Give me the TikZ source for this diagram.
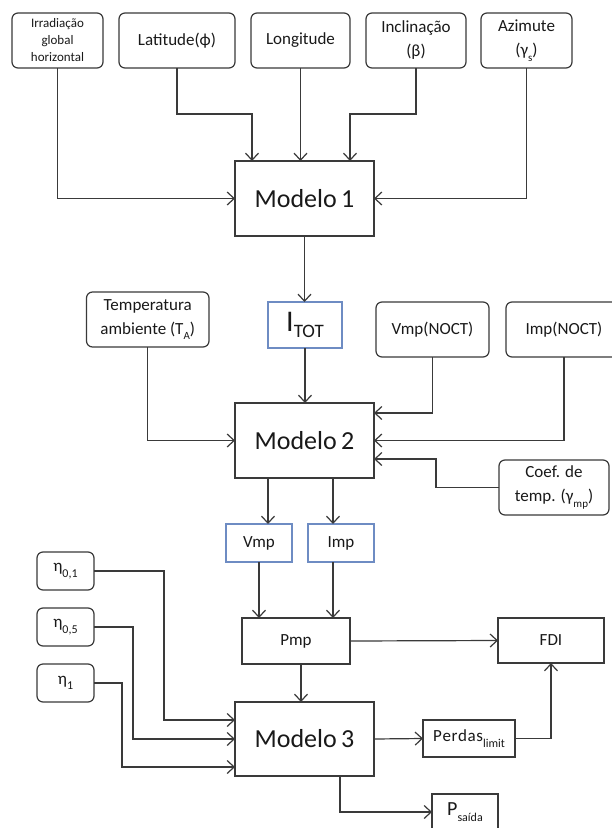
\documentclass[tikz,border=0pt]{standalone}
\usepackage{fontspec}
\setmainfont{Carlito}
\usetikzlibrary{arrows.meta}

\definecolor{linec}{RGB}{58,58,58}
\definecolor{bluec}{RGB}{110,140,195}
\definecolor{textc}{RGB}{25,25,25}

% lowered subscript at a given size
\newcommand{\lowsub}[2]{\raisebox{-0.32em}{\fontsize{#1}{#1}\selectfont #2}}

\begin{document}
\begin{tikzpicture}[x=1pt,y=-1pt,
  every node/.style={inner sep=0pt, outer sep=0pt, align=center, text=textc},
  rbox/.style={draw=linec, line width=1.2pt, rounded corners=6pt, fill=white,
               font=\fontsize{17}{24}\selectfont},
  sbox/.style={draw=linec, line width=1.2pt, fill=white,
               font=\fontsize{17}{22}\selectfont},
  bbox/.style={draw=bluec, line width=1.1pt, fill=white,
               font=\fontsize{17}{22}\selectfont},
  model/.style={sbox, minimum width=139pt, font=\fontsize{26}{30}\selectfont},
  arr/.style={draw=linec, line width=1.2pt, -{Straight Barb[length=7pt,width=13pt,line width=1.2pt]}}
]
\useasboundingbox[fill=white] (0,0) rectangle (611,828);

% inputs of Modelo 1
\node[rbox, minimum width=91pt, minimum height=55pt, font=\fontsize{13}{17}\selectfont]
  (irr) at (57.5,40.5) {Irradiação\\global\\horizontal};
\node[rbox, minimum width=116pt, minimum height=55pt] (lat) at (177,40.5) {Latitude(ϕ)};
\node[rbox, minimum width=99pt, minimum height=55pt] (lon) at (300.5,40.5) {Longitude};
\node[rbox, minimum width=100pt, minimum height=55pt] (inc) at (416,40.5) {Inclinação\\(β)};
\node[rbox, minimum width=91pt, minimum height=55pt] (azi) at (526.5,40.5) {Azimute\\(γ\lowsub{11}{s})};

\node[model, minimum height=75pt] (m1) at (304.5,198.5) {Modelo\hspace{-1.5pt} 1};

% inputs of Modelo 2
\node[bbox, minimum width=74pt, minimum height=46pt] (itot) at (305,325)
  {{\fontsize{30}{30}\selectfont I}\lowsub{19}{TOT}};
\node[rbox, minimum width=122.5pt, minimum height=55pt] (temp) at (147.75,319.5)
  {Temperatura\\ambiente (T\lowsub{11}{A})};
\node[rbox, minimum width=113pt, minimum height=55pt] (vnoct) at (432.5,329.5) {Vmp(NOCT)};
\node[rbox, minimum width=116pt, minimum height=55pt] (inoct) at (564,329.5) {Imp(NOCT)};
\node[rbox, minimum width=110pt, minimum height=55pt] (coef) at (554,487.5)
  {Coef. de\\temp. (γ\lowsub{11}{mp})};

\node[model, minimum height=75pt] (m2) at (304.5,440.5) {Modelo\hspace{-1.5pt} 2};

% outputs of Modelo 2
\node[bbox, minimum width=66pt, minimum height=38pt] (vmp) at (259,543) {Vmp};
\node[bbox, minimum width=66pt, minimum height=38pt] (imp) at (341,543) {Imp};
\node[sbox, minimum width=108pt, minimum height=46pt] (pmp) at (296,641) {Pmp};
\node[sbox, minimum width=106pt, minimum height=45pt] (fdi) at (551,640.5) {FDI};

% efficiency inputs
\node[rbox, minimum width=57pt, minimum height=38pt] (eta01) at (65.5,571) {η\lowsub{12}{0,1}};
\node[rbox, minimum width=57pt, minimum height=38pt] (eta05) at (65.5,627) {η\lowsub{12}{0,5}};
\node[rbox, minimum width=57pt, minimum height=38pt] (eta1) at (65.5,683) {η\lowsub{12}{1}};

\node[model, minimum height=74pt] (m3) at (304.5,739) {Modelo\hspace{-1.5pt} 3};

\node[sbox, minimum width=92pt, minimum height=37pt] (perdas) at (469,738.5)
  {P\hspace{0.6pt}e\hspace{0.6pt}r\hspace{0.6pt}d\hspace{0.6pt}a\hspace{0.6pt}s\lowsub{12}{limit}};
\node[sbox, minimum width=66pt, minimum height=36pt] (psaida) at (465,812)
  {{\fontsize{20}{20}\selectfont P}\lowsub{12}{saída}};

% connectors into Modelo 1
\draw[arr] (irr.south) |- (m1.west);
\draw[arr] (lat.south) -- ++(0,46) -| ([xshift=17pt]m1.north west);
\draw[arr] (lon.south) -- (lon.south |- m1.north);
\draw[arr] (inc.south) -- ++(0,46) -| ([xshift=-24pt]m1.north east);
\draw[arr] (azi.south) |- (m1.east);

% Modelo 1 to Modelo 2
\draw[arr] (m1.south) -- (m1.south |- itot.north);
\draw[arr] (itot.south) -- (itot.south |- m2.north);
\draw[arr] (temp.south) |- (m2.west);
\draw[arr] (vnoct.south) |- ([yshift=-10pt]m2.north east);
\draw[arr] (inoct.south) |- (m2.east);
\draw[arr] (coef.west) -- ++(-63,0) |- ([yshift=-56pt]m2.north east);

% Modelo 2 outputs
\draw[arr] ([xshift=33pt]m2.south west) -- ([xshift=33pt]m2.south west |- vmp.north);
\draw[arr] ([xshift=98pt]m2.south west) -- ([xshift=98pt]m2.south west |- imp.north);
\draw[arr] (vmp.south) -- (vmp.south |- pmp.north);
\draw[arr] ([xshift=-8pt]imp.south) -- ([xshift=-8pt]imp.south |- pmp.north);
\draw[arr] (pmp.east) -- (fdi.west);
\draw[arr] ([xshift=5pt]pmp.south) -- ([xshift=5pt]pmp.south |- m3.north);

% efficiencies into Modelo 3
\draw[arr] (eta01.east) -- ++(70,0) |- ([yshift=-18pt]m3.north west);
\draw[arr] (eta05.east) -- ++(39,0) |- (m3.west);
\draw[arr] (eta1.east) -- ++(28,0) |- ([yshift=-65pt]m3.north west);

% Modelo 3 outputs
\draw[arr] (m3.east) -- (perdas.west);
\draw[arr] (perdas.east) -| (fdi.south);
\draw[arr] ([xshift=105pt]m3.south west) |- (psaida.west);
\end{tikzpicture}
\end{document}
